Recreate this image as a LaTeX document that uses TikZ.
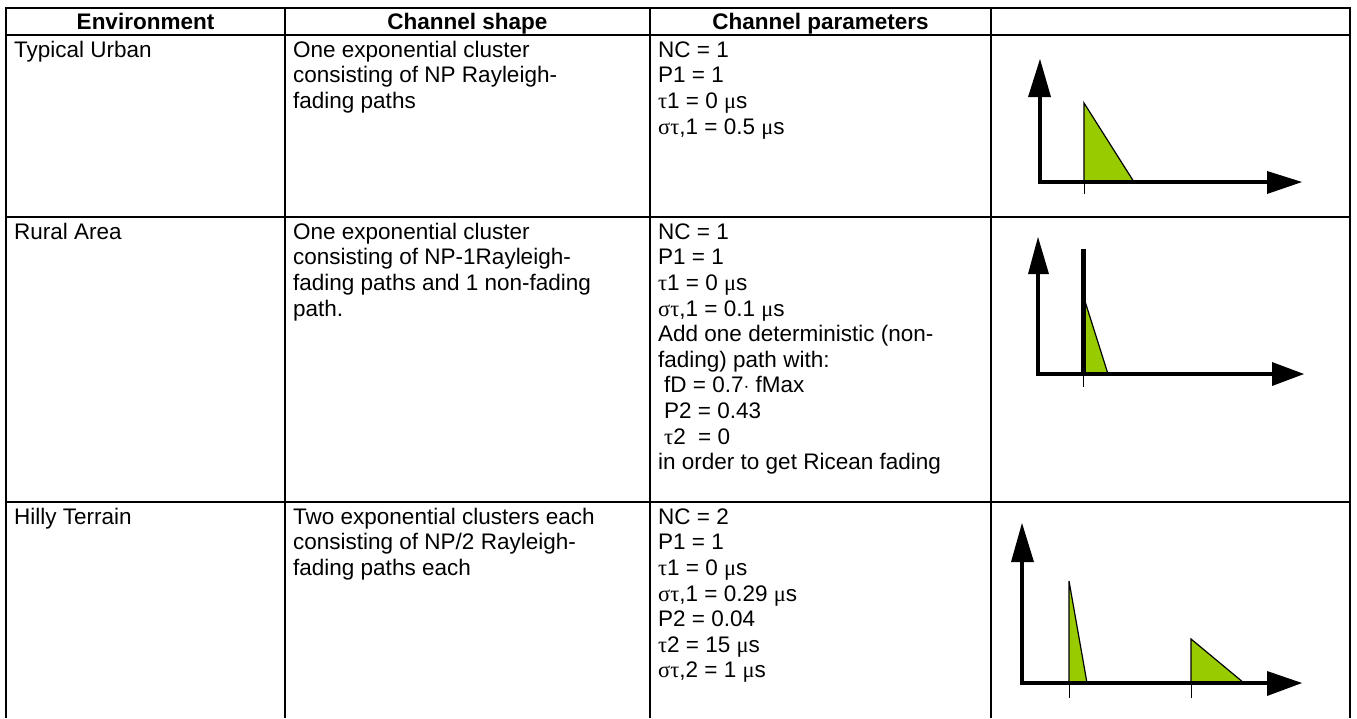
\documentclass[tikz,border=0pt]{standalone}
\usepackage{fontspec}
\setmainfont{Liberation Sans}
\newfontfamily\grk{Liberation Serif}
\definecolor{pathgreen}{HTML}{99CC00}
\newcommand\fl{\rule{0pt}{20pt}}
\newcommand\gk[1]{{\grk #1}}
\begin{document}
\begin{tikzpicture}[x=1pt,y=-1pt,
  grid/.style={line width=2pt},
  celltext/.style={anchor=north west, inner sep=0pt, align=left, font=\fontsize{22.5}{25.6}\selectfont},
  head/.style={anchor=base, inner sep=0pt, font=\bfseries\fontsize{22.5}{25.6}\selectfont},
  axis/.style={line width=4.5pt, line join=miter},
  tip/.style={fill=black},
  pulse/.style={fill=pathgreen, draw=black, line width=1.2pt, line join=miter},
  tickmark/.style={line width=1pt},
  spike/.style={line width=5pt}]
\useasboundingbox (0,0) rectangle (1357,718);
% table grid
\draw[grid] (6,8) -- (1350,8);
\draw[grid] (6,35) -- (1350,35);
\draw[grid] (6,217) -- (1350,217);
\draw[grid] (6,502) -- (1350,502);
\foreach \cx in {6,285,650,991,1350} \draw[grid] (\cx,7) -- (\cx,718);
% headers
\node[head] (h1) at (145.5,29.5) {Environment};
\node[head] (h2) at (467.5,29.5) {Channel shape};
\node[head] (h3) at (820.5,29.5) {Channel parameters};
% row 1
\node[celltext] (e1) at (14,37) {\fl Typical Urban};
\node[celltext] (s1) at (293,37) {\fl One exponential cluster\\consisting of NP Rayleigh-\\fading paths};
\node[celltext] (p1) at (658,37) {\fl NC = 1\\P1 = 1\\\gk{τ}1 = 0 \gk{μ}s\\\gk{στ},1 = 0.5 \gk{μ}s};
% row 2
\node[celltext] (e2) at (14,219) {\fl Rural Area};
\node[celltext] (s2) at (293,219) {\fl One exponential cluster\\consisting of NP-1Rayleigh-\\fading paths and 1 non-fading\\path.};
\node[celltext] (p2) at (658,219) {\fl NC = 1\\P1 = 1\\\gk{τ}1 = 0 \gk{μ}s\\\gk{στ},1 = 0.1 \gk{μ}s\\Add one deterministic (non-\\fading) path with:\\\hspace*{6pt}fD = 0.7$\cdot$ fMax\\\hspace*{6pt}P2 = 0.43\\\hspace*{6pt}\gk{τ}2~ = 0\\in order to get Ricean fading};
% row 3
\node[celltext] (e3) at (14,504) {\fl Hilly Terrain};
\node[celltext] (s3) at (293,504) {\fl Two exponential clusters each\\consisting of NP/2 Rayleigh-\\fading paths each};
\node[celltext] (p3) at (658,504) {\fl NC = 2\\P1 = 1\\\gk{τ}1 = 0 \gk{μ}s\\\gk{στ},1 = 0.29 \gk{μ}s\\P2 = 0.04\\\gk{τ}2 = 15 \gk{μ}s\\\gk{στ},2 = 1 \gk{μ}s};
% chart 1
\draw[pulse] (1084,103) -- (1084,182) -- (1134,182) -- cycle;
\draw[tickmark] (1084,182) -- (1084,194);
\draw[axis] (1040,95) -- (1040,182) -- (1269,182);
\fill[tip] (1028,97) -- (1040,59) -- (1051,97) -- cycle;
\fill[tip] (1267,171) -- (1302,182) -- (1267,194) -- cycle;
% chart 2
\draw[pulse] (1083,295) -- (1083,374) -- (1108,374) -- cycle;
\draw[tickmark] (1083,374) -- (1083,387);
\draw[spike] (1083,249) -- (1083,374);
\draw[axis] (1038,272) -- (1038,374) -- (1274,374);
\fill[tip] (1028,274) -- (1038,237) -- (1049,274) -- cycle;
\fill[tip] (1272,362) -- (1304,374) -- (1272,386) -- cycle;
% chart 3
\draw[pulse] (1069,581) -- (1069,683) -- (1087,683) -- cycle;
\draw[pulse] (1191,639) -- (1191,683) -- (1244,683) -- cycle;
\draw[tickmark] (1069,683) -- (1069,698);
\draw[tickmark] (1191,683) -- (1191,698);
\draw[axis] (1022,560) -- (1022,683) -- (1269,683);
\fill[tip] (1011,562) -- (1022,523) -- (1034,562) -- cycle;
\fill[tip] (1267,671) -- (1302,683) -- (1267,696) -- cycle;
\end{tikzpicture}
\end{document}
